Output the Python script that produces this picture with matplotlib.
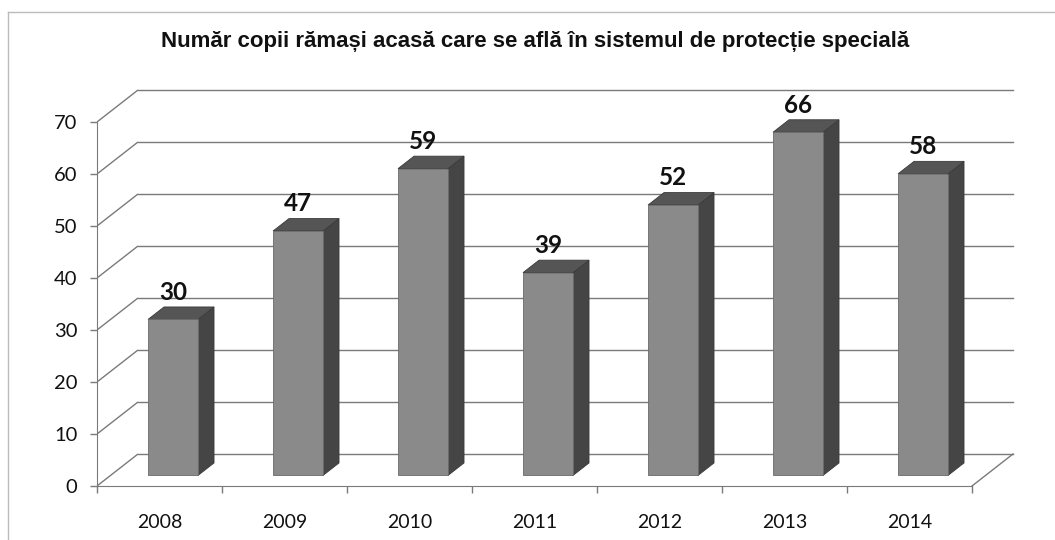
import matplotlib
matplotlib.use("Agg")
import matplotlib.pyplot as plt
from matplotlib.patches import Polygon, Rectangle
from matplotlib.lines import Line2D

# ---- data ----
years = ["2008", "2009", "2010", "2011", "2012", "2013", "2014"]
values = [30, 47, 59, 39, 52, 66, 58]
yticks = [0, 10, 20, 30, 40, 50, 60, 70]
title = "Număr copii rămași acasă care se află în sistemul de protecție specială"

# ---- oblique 3D projection parameters (in data units) ----
DX = 41 / 125.0    # depth shift in category units
DY = 32 / 5.2      # depth shift in value units
D0, D1 = 0.33, 0.72  # bar depth range
BW = 0.4            # bar width fraction

W, H = 1055, 540
fig = plt.figure(figsize=(W / 100, H / 100), dpi=100)

# axes placement: x 0 -> px 97 (125 px/unit), y 0 -> py 486 (5.2 px/unit)
px_l, px_r = 97, 1030
py_b, py_t = 500, 80
ax = fig.add_axes([px_l / W, 1 - py_b / H, (px_r - px_l) / W, (py_b - py_t) / H])
ax.set_xlim(0, (px_r - px_l) / 125.0)
ax.set_ylim(-(py_b - 486) / 5.2, (486 - py_t) / 5.2)
ax.patch.set_alpha(0)

grid_c = "#7a7a7a"
n = len(years)

# back wall gridlines + left wall diagonals
for t in yticks:
    ax.plot([0, DX], [t, t + DY], color=grid_c, lw=1.0, zorder=1, solid_capstyle="butt")
    ax.plot([DX, n + DX], [t + DY, t + DY], color=grid_c, lw=1.0, zorder=1)

# floor right edge
ax.plot([n, n + DX], [0, DY], color=grid_c, lw=1.0, zorder=1)

# spines
for s in ["top", "right"]:
    ax.spines[s].set_visible(False)
ax.spines["left"].set_bounds(0, 70)
ax.spines["left"].set_color(grid_c)
ax.spines["bottom"].set_bounds(0, n)
ax.spines["bottom"].set_position(("data", 0))
ax.spines["bottom"].set_color(grid_c)

ax.set_yticks(yticks)
ax.set_yticklabels([str(t) for t in yticks], fontsize=14.5, family="Lato")
ax.tick_params(axis="y", length=5, width=1, color=grid_c, pad=9, labelcolor="#111111")

ax.set_xticks(range(n + 1))
ax.set_xticklabels([""] * (n + 1))
ax.tick_params(axis="x", which="major", length=5, width=1, color=grid_c, direction="out")
ax.set_xticks([i + 0.5 for i in range(n)], minor=True)
ax.set_xticklabels(years, minor=True, fontsize=14, family="Lato", color="#111111")
ax.tick_params(axis="x", which="minor", length=0, pad=20)

front_c = "#8a8a8a"
side_c = "#454545"
top_c = "#555555"

for i, v in enumerate(values):
    xl = i + 0.5 - BW / 2
    xr = i + 0.5 + BW / 2
    # side face
    side = Polygon([(xr + D0 * DX, D0 * DY), (xr + D1 * DX, D1 * DY),
                    (xr + D1 * DX, v + D1 * DY), (xr + D0 * DX, v + D0 * DY)],
                   closed=True, facecolor=side_c, edgecolor="#3a3a3a", lw=0.6, zorder=3)
    ax.add_patch(side)
    # top face
    top = Polygon([(xl + D0 * DX, v + D0 * DY), (xr + D0 * DX, v + D0 * DY),
                   (xr + D1 * DX, v + D1 * DY), (xl + D1 * DX, v + D1 * DY)],
                  closed=True, facecolor=top_c, edgecolor="#3a3a3a", lw=0.6, zorder=3)
    ax.add_patch(top)
    # front face
    front = Rectangle((xl + D0 * DX, D0 * DY), BW, v, facecolor=front_c,
                      edgecolor="#6a6a6a", lw=0.6, zorder=4)
    ax.add_patch(front)
    # value label
    ax.text(i + 0.5 + D0 * DX, v + D1 * DY + 0.6, str(v), ha="center", va="bottom",
            fontsize=17.5, fontweight="bold", family="Lato", color="#111111", zorder=5)

# title
fig.text(535 / W, 1 - 42 / H, title, ha="center", va="center", fontsize=16,
         fontweight="bold", family="Liberation Sans", color="#111111")

# chart-area border (top and left visible)
fig.add_artist(Line2D([8 / W, 8 / W], [0, 1 - 12 / H], transform=fig.transFigure,
                      color="#bbbbbb", lw=1.0))
fig.add_artist(Line2D([8 / W, 1], [1 - 12 / H, 1 - 12 / H], transform=fig.transFigure,
                      color="#bbbbbb", lw=1.0))

fig.savefig("out.png", dpi=100, facecolor="white")
